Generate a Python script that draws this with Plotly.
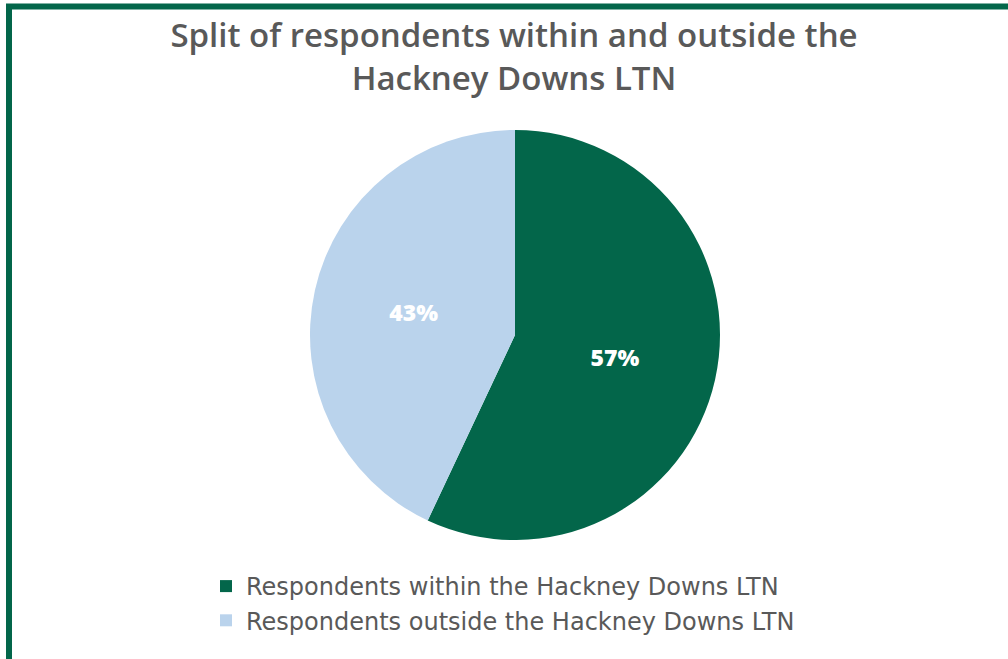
import plotly.graph_objects as go

categories = ["Respondents within the Hackney Downs LTN",
              "Respondents outside the Hackney Downs LTN"]
values = [57, 43]
colors = ["#03664A", "#BAD3EC"]

W, H = 1008, 659

fig = go.Figure(go.Pie(
    labels=categories,
    values=values,
    sort=False,
    direction="clockwise",
    rotation=0,
    marker=dict(colors=colors, line=dict(width=0)),
    textinfo="percent",
    texttemplate="%{percent:.0%}",
    textposition="inside",
    insidetextorientation="horizontal",
    textfont=dict(family="Open Sans", size=23, color="white", weight=800),
    domain=dict(x=[310 / W, 720 / W], y=[1 - 540 / H, 1 - 130 / H]),
    hoverinfo="label+percent",
))

fig.update_layout(
    width=W, height=H,
    margin=dict(l=0, r=0, t=0, b=0),
    paper_bgcolor="white",
    plot_bgcolor="white",
    title=dict(
        text="Split of respondents within and outside the<br>Hackney Downs LTN",
        x=514 / W, xanchor="center",
        y=1 - 47 / H, yanchor="top",
        font=dict(family="Open Sans", size=33, color="#595959", weight=600),
    ),
    showlegend=True,
    legend=dict(
        orientation="v",
        x=206 / W, xanchor="left",
        y=1 - 564 / H, yanchor="top",
        font=dict(family="DejaVu Sans", size=24, color="#595959"),
        bgcolor="rgba(0,0,0,0)",
        itemwidth=30,
    ),
    shapes=[dict(
        type="rect", xref="paper", yref="paper",
        x0=9 / W, x1=1.05, y0=-0.05, y1=1 - 6.5 / H,
        line=dict(color="#03664A", width=6),
        fillcolor="rgba(0,0,0,0)",
        layer="above",
    )],
)

fig.write_html("out.html", post_script="document.body.style.margin='0';",
               config={"displayModeBar": False})
